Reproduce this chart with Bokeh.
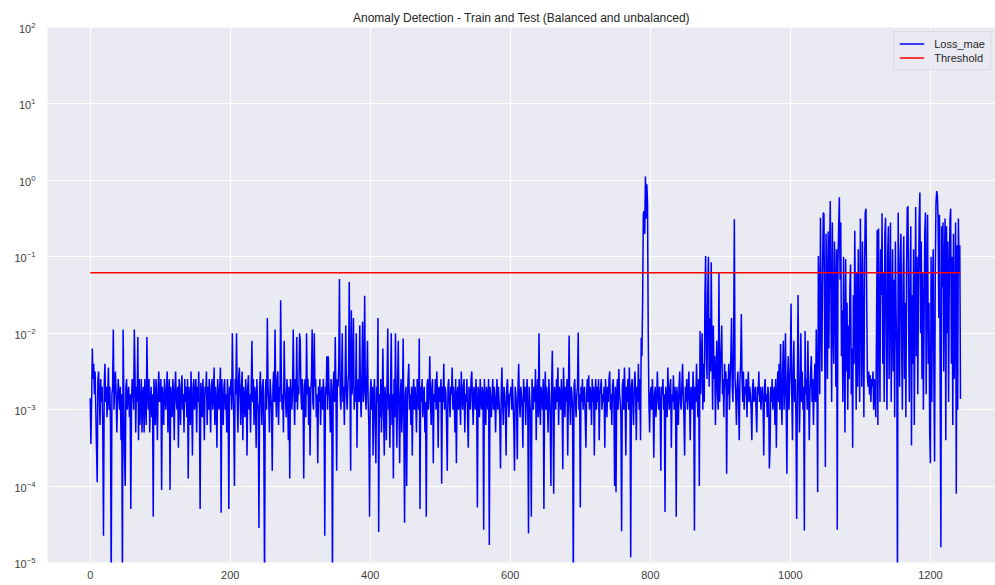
import numpy as np
from bokeh.plotting import figure
from bokeh.models import Range1d, FixedTicker, Legend, LegendItem
from bokeh.embed import file_html
from bokeh.resources import INLINE

# Per-sample reconstruction loss (MAE), stored as log10 exponents, 100 samples per block
loss_log10_0000 = [
    -2.85, -3.45, -2.9, -2.2, -2.6, -2.4, -2.8, -2.5, -3.0, -3.5,
    -3.95, -2.6, -2.5, -2.8, -3.2, -2.6, -2.9, -2.7, -3.3, -4.65,
    -2.7, -2.4, -2.9, -2.7, -3.1, -2.8, -2.45, -3.0, -2.7, -3.2,
    -5.3, -2.8, -2.7, -1.95, -3.0, -2.7, -2.5, -2.8, -3.3, -2.9,
    -2.6, -2.8, -3.0, -2.7, -3.4, -2.8, -5.3, -1.95, -2.8, -3.6,
    -4.0, -2.7, -2.6, -3.0, -2.8, -2.7, -3.1, -2.8, -4.3, -2.9,
    -2.6, -2.7, -3.0, -1.95, -2.5, -3.3, -2.7, -2.9, -2.05, -3.4,
    -2.6, -3.2, -2.9, -2.6, -3.3, -2.8, -2.7, -3.3, -2.6, -2.9,
    -3.2, -2.05, -2.8, -3.0, -2.6, -3.3, -2.9, -2.7, -3.1, -2.8,
    -4.4, -2.6, -2.8, -3.2, -2.6, -2.9, -3.4, -2.7, -2.5, -2.9,
]
loss_log10_0100 = [
    -2.8, -2.6, -4.05, -2.7, -2.9, -3.2, -2.6, -2.8, -3.0, -2.7,
    -2.5, -3.3, -2.8, -2.6, -4.05, -2.7, -2.9, -3.1, -2.6, -2.8,
    -3.4, -2.7, -2.5, -2.9, -3.0, -2.7, -3.5, -2.6, -2.8, -3.2,
    -2.7, -2.55, -3.0, -2.8, -3.3, -2.6, -2.9, -2.7, -3.1, -2.6,
    -3.9, -2.7, -2.8, -3.2, -2.5, -2.9, -3.6, -2.7, -2.6, -3.0,
    -2.8, -2.6, -3.3, -2.7, -2.9, -2.5, -3.0, -4.3, -2.65, -2.8,
    -3.1, -2.6, -2.9, -3.4, -2.7, -2.8, -2.5, -3.2, -2.7, -3.0,
    -2.6, -2.9, -3.3, -2.7, -2.6, -3.0, -2.8, -2.45, -3.2, -2.7,
    -2.9, -3.5, -2.6, -2.8, -3.0, -2.7, -2.45, -4.35, -2.6, -2.9,
    -3.2, -2.7, -2.6, -3.0, -2.8, -3.3, -2.6, -2.9, -4.3, -2.7,
]
loss_log10_0200 = [
    -2.8, -2.6, -3.0, -2.0, -2.7, -3.1, -4.0, -2.6, -2.8, -2.0,
    -2.9, -3.3, -2.6, -2.45, -2.8, -3.2, -2.7, -2.5, -3.4, -2.7,
    -2.9, -3.1, -2.6, -2.8, -3.6, -2.7, -2.55, -3.0, -2.8, -3.3,
    -2.7, -2.1, -2.9, -2.6, -3.2, -2.7, -2.8, -3.5, -2.6, -2.9,
    -3.0, -4.55, -2.7, -2.5, -2.9, -3.2, -2.7, -2.6, -3.4, -5.3,
    -2.8, -2.6, -3.0, -1.8, -2.7, -2.9, -3.3, -2.6, -2.8, -3.0,
    -3.8, -2.7, -2.5, -2.9, -1.95, -2.8, -3.1, -2.6, -2.5, -3.2,
    -2.7, -2.9, -1.57, -2.6, -3.0, -2.8, -3.3, -2.1, -2.7, -2.9,
    -3.1, -2.6, -2.8, -3.4, -2.7, -3.9, -2.6, -2.8, -3.0, -2.7,
    -1.95, -2.8, -3.2, -2.6, -2.9, -2.05, -3.0, -2.7, -2.8, -2.0,
]
loss_log10_0300 = [
    -2.1, -2.8, -3.0, -2.6, -2.9, -3.9, -2.7, -2.6, -3.1, -2.0,
    -2.8, -2.6, -3.2, -2.7, -3.6, -2.8, -2.6, -1.95, -2.9, -3.0,
    -2.0, -2.7, -2.6, -3.1, -2.8, -3.7, -2.7, -2.9, -2.6, -3.2,
    -2.8, -2.7, -3.0, -2.6, -2.9, -4.65, -2.7, -2.8, -2.3, -3.0,
    -2.3, -2.7, -2.9, -3.3, -2.6, -2.8, -5.3, -2.7, -2.5, -2.9,
    -2.05, -2.8, -3.8, -2.6, -2.7, -2.4, -1.29, -2.8, -3.0, -2.6,
    -2.0, -2.9, -2.7, -3.2, -2.6, -1.9, -2.8, -3.0, -2.7, -2.5,
    -1.33, -2.7, -3.8, -1.7, -2.8, -2.6, -1.8, -3.0, -2.7, -2.9,
    -2.0, -3.5, -2.7, -2.6, -2.9, -1.9, -2.8, -3.1, -2.6, -1.85,
    -2.9, -2.7, -1.51, -2.8, -3.0, -2.6, -2.1, -2.9, -3.2, -4.4,
]
loss_log10_0400 = [
    -2.8, -2.6, -3.0, -2.7, -3.6, -2.8, -2.6, -3.2, -3.7, -2.7,
    -2.9, -1.8, -4.6, -2.8, -3.1, -2.6, -3.3, -2.9, -2.2, -3.0,
    -3.6, -2.7, -2.9, -3.4, -2.6, -1.94, -3.0, -2.8, -3.5, -2.7,
    -2.0, -3.2, -2.8, -3.9, -2.6, -3.1, -2.0, -2.9, -3.5, -2.7,
    -2.1, -3.0, -3.7, -2.8, -2.6, -3.3, -2.9, -2.07, -3.2, -4.48,
    -2.8, -2.7, -4.0, -2.9, -2.6, -2.4, -3.0, -2.8, -3.2, -2.7,
    -3.6, -2.8, -2.6, -3.0, -2.7, -2.9, -3.3, -2.6, -2.8, -3.0,
    -2.07, -4.3, -2.7, -2.9, -2.6, -3.1, -2.8, -2.7, -3.3, -2.9,
    -4.4, -2.7, -2.6, -3.0, -2.8, -2.3, -2.9, -3.2, -2.7, -2.6,
    -3.7, -2.8, -2.9, -2.6, -3.0, -2.5, -2.8, -3.5, -2.7, -2.9,
]
loss_log10_0500 = [
    -2.8, -2.6, -3.97, -2.7, -2.9, -2.4, -3.0, -2.7, -2.8, -3.2,
    -3.8, -2.7, -2.6, -2.9, -3.1, -2.7, -2.8, -2.45, -3.0, -2.7,
    -2.9, -3.3, -2.6, -3.7, -2.8, -2.7, -3.0, -2.6, -2.9, -3.2,
    -2.5, -2.8, -3.0, -2.7, -2.6, -3.3, -2.8, -2.9, -2.6, -3.1,
    -3.5, -2.7, -2.8, -3.0, -2.6, -2.5, -2.9, -3.2, -2.7, -2.8,
    -3.0, -2.6, -2.9, -4.28, -2.7, -2.8, -3.1, -2.6, -2.9, -3.0,
    -2.7, -2.8, -4.57, -2.6, -2.9, -3.2, -2.7, -2.8, -3.0, -2.6,
    -4.77, -2.7, -2.9, -3.1, -2.8, -2.6, -3.0, -2.7, -2.9, -3.3,
    -2.8, -2.6, -3.0, -2.7, -2.9, -3.1, -3.77, -2.8, -2.45, -2.9,
    -3.2, -2.7, -2.8, -3.0, -3.6, -2.7, -2.6, -2.9, -3.1, -2.8,
]
loss_log10_0600 = [
    -2.8, -2.7, -3.0, -2.6, -2.9, -3.2, -3.8, -2.7, -2.8, -3.0,
    -3.65, -2.7, -2.4, -2.9, -3.1, -2.7, -2.8, -3.0, -3.5, -2.6,
    -2.9, -2.7, -3.2, -2.8, -2.6, -3.0, -4.62, -2.7, -2.9, -3.1,
    -4.4, -2.6, -2.8, -3.0, -2.7, -2.9, -2.47, -3.4, -2.8, -2.6,
    -3.1, -2.0, -2.9, -3.2, -2.7, -2.8, -3.0, -2.6, -4.3, -2.8,
    -2.5, -3.0, -2.7, -2.9, -3.3, -2.6, -2.8, -3.1, -4.0, -2.7,
    -2.23, -2.9, -4.1, -2.7, -2.8, -3.0, -2.6, -2.9, -2.45, -3.2,
    -2.7, -2.8, -3.0, -2.6, -2.9, -3.78, -2.45, -2.8, -3.1, -2.7,
    -2.9, -2.6, -3.6, -2.8, -2.03, -2.9, -3.2, -2.7, -2.8, -3.0,
    -5.3, -2.7, -2.6, -2.9, -3.1, -2.8, -2.7, -1.99, -3.0, -2.8,
]
loss_log10_0700 = [
    -4.28, -2.7, -2.9, -2.6, -3.0, -2.8, -2.7, -3.1, -3.5, -2.8,
    -2.6, -2.9, -2.55, -3.0, -2.7, -2.8, -3.2, -2.6, -2.9, -2.7,
    -3.6, -2.8, -2.6, -3.0, -2.7, -2.9, -2.6, -3.4, -2.8, -2.7,
    -2.6, -3.0, -2.8, -2.9, -2.7, -3.5, -2.6, -2.8, -3.1, -2.7,
    -2.9, -2.6, -2.5, -3.0, -2.8, -3.2, -2.7, -2.6, -2.9, -4.0,
    -2.7, -4.08, -2.8, -2.6, -3.0, -2.47, -2.8, -2.9, -3.1, -4.59,
    -2.7, -2.6, -3.0, -2.45, -2.8, -3.6, -2.7, -2.9, -2.6, -3.0,
    -2.45, -2.8, -4.93, -2.7, -2.6, -2.9, -3.2, -2.7, -2.5, -2.8,
    -3.4, -2.7, -2.9, -2.4, -3.0, -2.6, -3.4, -2.06, -2.3, -1.6,
    -0.45, -0.4, -0.7, 0.05, -0.5, -0.05, -0.3, -2.0, -2.9, -3.3,
]
loss_log10_0800 = [
    -2.8, -2.7, -3.0, -2.6, -2.9, -3.63, -2.8, -2.7, -3.1, -2.9,
    -2.5, -2.8, -3.0, -2.7, -2.9, -3.8, -2.7, -2.8, -2.6, -3.0,
    -2.8, -4.34, -2.7, -2.9, -3.1, -2.45, -2.8, -3.0, -2.7, -2.6,
    -3.5, -2.8, -2.9, -2.55, -3.0, -2.7, -2.8, -4.4, -2.7, -2.9,
    -3.2, -2.7, -2.5, -2.9, -3.0, -2.7, -2.4, -2.8, -3.1, -3.6,
    -2.7, -2.9, -2.6, -3.0, -2.8, -2.5, -2.9, -3.4, -2.7, -2.8,
    -3.0, -2.5, -2.8, -4.58, -2.7, -2.9, -2.4, -2.8, -3.1, -2.6,
    -4.0, -1.97, -2.8, -2.3, -2.0, -3.0, -2.4, -2.9, -1.5, -0.99,
    -2.3, -2.6, -1.5, -1.0, -2.7, -1.8, -2.5, -1.07, -2.2, -3.0,
    -1.9, -2.6, -2.3, -3.2, -2.5, -2.1, -2.8, -3.0, -1.2, -2.9,
]
loss_log10_0900 = [
    -2.5, -2.2, -1.9, -2.8, -2.6, -3.1, -2.4, -2.7, -2.5, -3.84,
    -2.6, -2.8, -2.4, -3.0, -2.6, -2.3, -1.8, -2.7, -2.9, -2.1,
    -0.51, -2.6, -2.8, -3.2, -2.7, -2.5, -2.9, -3.4, -2.6, -2.4,
    -1.75, -2.6, -2.9, -2.5, -3.0, -2.7, -2.8, -2.6, -3.1, -2.7,
    -2.5, -2.9, -2.7, -2.8, -3.0, -3.4, -2.7, -2.6, -2.9, -2.8,
    -2.7, -3.0, -3.3, -2.7, -2.8, -2.5, -2.9, -2.7, -3.0, -2.8,
    -2.7, -2.9, -3.6, -2.7, -2.6, -2.9, -2.8, -3.1, -2.7, -2.8,
    -3.77, -3.5, -2.7, -2.9, -2.6, -3.0, -2.8, -2.7, -3.2, -2.6,
    -3.5, -2.8, -2.5, -2.9, -2.4, -3.0, -2.14, -2.8, -3.2, -2.5,
    -2.1, -3.0, -2.7, -2.0, -2.9, -3.84, -2.6, -2.3, -3.0, -2.7,
]
loss_log10_1000 = [
    -2.4, -1.61, -2.8, -3.4, -2.5, -2.1, -2.9, -2.6, -3.1, -4.43,
    -2.7, -1.5, -2.6, -3.3, -2.8, -2.0, -2.9, -2.5, -3.0, -2.7,
    -4.58, -1.97, -2.8, -2.6, -3.0, -2.1, -2.7, -3.4, -2.8, -2.5,
    -2.3, -2.9, -2.6, -3.2, -2.7, -2.4, -2.9, -1.95, -2.6, -4.08,
    -0.99, -1.5, -2.8, -0.49, -1.8, -2.5, -1.2, -0.42, -0.44, -2.0,
    -3.75, -0.7, -1.3, -2.6, -0.67, -2.2, -1.0, -0.27, -1.6, -2.9,
    -0.55, -1.9, -2.4, -0.8, -1.4, -2.7, -0.9, -4.57, -1.1, -0.6,
    -0.22, -1.3, -0.55, -2.3, -1.7, -2.9, -1.0, -2.1, -3.3, -1.03,
    -2.5, -1.6, -3.0, -1.9, -2.6, -1.4, -1.1, -2.8, -2.2, -3.5,
    -1.5, -2.4, -0.66, -1.8, -3.0, -1.2, -2.7, -0.9, -2.2, -2.9,
]
loss_log10_1100 = [
    -0.5, -1.6, -2.7, -0.8, -2.0, -3.1, -1.1, -0.42, -0.37, -1.5,
    -2.55, -2.7, -2.5, -2.8, -2.55, -2.9, -2.6, -2.7, -2.5, -3.0,
    -2.6, -2.8, -3.1, -2.0, -0.65, -3.2, -0.63, -1.8, -2.9, -0.9,
    -1.5, -0.43, -2.4, -1.2, -2.9, -0.7, -0.49, -2.2, -3.0, -1.0,
    -0.6, -2.6, -1.5, -0.55, -2.9, -1.9, -0.9, -2.5, -1.3, -3.1,
    -0.8, -1.7, -2.3, -5.3, -0.42, -1.4, -2.7, -1.0, -0.7, -2.2,
    -3.0, -1.3, -0.73, -2.6, -1.6, -3.1, -1.1, -0.36, -0.34, -2.0,
    -2.9, -1.2, -0.6, -3.47, -1.5, -2.4, -0.9, -3.2, -1.7, -0.35,
    -2.3, -1.0, -2.8, -1.4, -0.5, -0.16, -2.0, -0.8, -2.6, -1.2,
    -3.0, -1.9, -0.7, -0.42, -2.8, -1.3, -0.45, -2.4, -1.6, -3.3,
]
loss_log10_1200 = [
    -3.7, -1.0, -2.9, -1.5, -0.9, -2.6, -3.68, -1.2, -0.3, -0.14,
    -0.2, -0.5, -1.8, -0.45, -2.7, -4.8, -0.6, -1.4, -0.55, -2.5,
    -1.1, -0.5, -3.4, -0.6, -2.0, -0.8, -2.9, -1.3, -0.5, -0.37,
    -2.4, -1.0, -3.2, -0.7, -2.6, -1.9, -0.55, -4.1, -0.85, -3.0,
    -0.5, -1.2, -0.85, -2.86,
]

# Anomaly threshold on the MAE loss
threshold = 0.062

x_ticks = [0, 200, 400, 600, 800, 1000, 1200]
y_ticks = [1e-5, 1e-4, 1e-3, 1e-2, 1e-1, 1e0, 1e1, 1e2]

blocks = [loss_log10_0000, loss_log10_0100, loss_log10_0200, loss_log10_0300,
          loss_log10_0400, loss_log10_0500, loss_log10_0600, loss_log10_0700,
          loss_log10_0800, loss_log10_0900, loss_log10_1000, loss_log10_1100,
          loss_log10_1200]
loss_mae = 10.0 ** np.concatenate([np.asarray(b, dtype=float) for b in blocks])
sample = np.arange(len(loss_mae))
threshold_line = np.full(len(sample), threshold)

FONT = "Liberation Sans"
BG = "#eaeaf2"

p = figure(
    width=995, height=585,
    y_axis_type="log",
    x_range=Range1d(-61, 1293),
    y_range=Range1d(1e-5, 1e2),
    output_backend="svg",
    toolbar_location=None,
    title="Anomaly Detection - Train and Test (Balanced and unbalanced)",
)
p.min_border_left = 47
p.min_border_right = 0
p.min_border_top = 27
p.min_border_bottom = 23
p.background_fill_color = BG
p.border_fill_color = "white"
p.outline_line_color = None

p.title.align = "center"
p.title.text_font = FONT
p.title.text_font_size = "12px"
p.title.text_font_style = "normal"
p.title.text_color = "#262626"
p.title.standoff = 5

p.xaxis.ticker = FixedTicker(ticks=x_ticks)
p.yaxis.ticker = FixedTicker(ticks=y_ticks)
for ax in (p.xaxis[0], p.yaxis[0]):
    ax.axis_line_color = None
    ax.major_tick_line_color = None
    ax.minor_tick_line_color = None
    ax.major_tick_out = 0
    ax.major_tick_in = 0
    ax.major_label_text_font = FONT
    ax.major_label_text_font_size = "11px"
    ax.major_label_text_color = "#3c3c3c"
p.xaxis.major_label_standoff = 8
p.yaxis.major_label_standoff = 12

p.xgrid.grid_line_color = "white"
p.ygrid.grid_line_color = "white"
p.xgrid.grid_line_width = 1.2
p.ygrid.grid_line_width = 1.2
p.ygrid.minor_grid_line_color = None

r_loss = p.line(sample, loss_mae, line_color="#0000ff", line_width=1.5)
r_thr = p.line(sample, threshold_line, line_color="#ff0000", line_width=1.5)

legend = Legend(
    items=[LegendItem(label="Loss_mae", renderers=[r_loss]),
           LegendItem(label="Threshold", renderers=[r_thr])],
    location="top_right",
    margin=4,
    padding=5,
    spacing=1,
    glyph_width=25,
    glyph_height=13,
    label_height=13,
    label_standoff=10,
    label_text_font=FONT,
    label_text_font_size="11px",
    label_text_color="#262626",
    background_fill_color=BG,
    background_fill_alpha=0.8,
    border_line_color="#cccccc",
    border_line_width=1,
)
p.add_layout(legend)

open("out.html", "w").write(file_html(p, INLINE))
